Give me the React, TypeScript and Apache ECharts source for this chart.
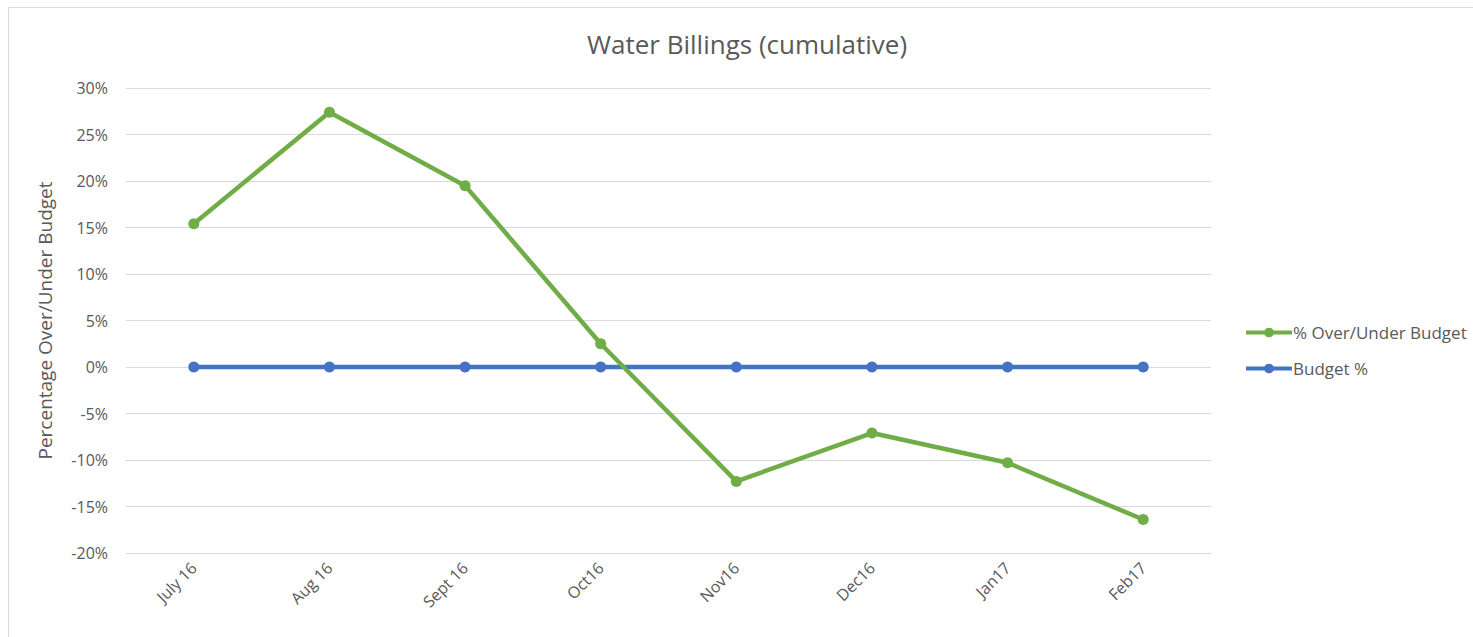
import React, { useEffect, useRef } from "react";
import * as echarts from "echarts";

const categories = ["July 16", "Aug 16", "Sept 16", "Oct16", "Nov16", "Dec16", "Jan17", "Feb17"];
const overUnder = [15.4, 27.4, 19.5, 2.5, -12.3, -7.1, -10.3, -16.4];
const budget = [0, 0, 0, 0, 0, 0, 0, 0];
const yTicks = { min: -20, max: 30, interval: 5 };

const FONT = "'Open Sans', sans-serif";
const TXT = "#595959";

export default function App() {
  const ref = useRef<HTMLDivElement>(null);
  useEffect(() => {
    if (!ref.current) return;
    const chart = echarts.init(ref.current, null, { renderer: "svg" });
    chart.setOption({
      animation: false,
      textStyle: { fontFamily: FONT },
      title: {
        text: "Water Billings (cumulative)",
        left: 742,
        top: 26,
        textAlign: "center",
        textStyle: { fontFamily: FONT, fontSize: 26, fontWeight: "normal", color: TXT },
      },
      legend: {
        orient: "vertical",
        left: 1244,
        top: 324,
        padding: 0,
        itemWidth: 46,
        itemHeight: 12,
        itemGap: 19,
        lineStyle: { width: 4 },
        textStyle: { fontFamily: FONT, fontSize: 17, color: TXT, padding: [0, 0, 0, -4] },
        data: ["% Over/Under Budget", "Budget %"],
      },
      grid: { left: 126, right: 262, top: 88, bottom: 84, containLabel: false },
      xAxis: {
        type: "category",
        data: categories,
        boundaryGap: true,
        axisLine: { show: false, onZero: false },
        axisTick: { show: false },
        axisLabel: { rotate: 45, margin: 12, fontFamily: FONT, fontSize: 16, color: TXT },
        splitLine: { show: false },
      },
      yAxis: {
        type: "value",
        min: yTicks.min,
        max: yTicks.max,
        interval: yTicks.interval,
        name: "Percentage Over/Under Budget",
        nameLocation: "middle",
        nameGap: 72,
        nameRotate: 90,
        nameTextStyle: { fontFamily: FONT, fontSize: 19, color: TXT },
        axisLine: { show: false },
        axisTick: { show: false },
        axisLabel: { formatter: "{value}%", margin: 18, fontFamily: FONT, fontSize: 16, color: TXT },
        splitLine: { lineStyle: { color: "#d9d9d9", width: 1 } },
      },
      series: [
        {
          name: "% Over/Under Budget",
          type: "line",
          data: overUnder,
          symbol: "circle",
          symbolSize: 11,
          lineStyle: { color: "#70AD47", width: 4.5 },
          itemStyle: { color: "#70AD47" },
          z: 3,
        },
        {
          name: "Budget %",
          type: "line",
          data: budget,
          symbol: "circle",
          symbolSize: 11,
          lineStyle: { color: "#4472C4", width: 4.5 },
          itemStyle: { color: "#4472C4" },
          z: 2,
        },
      ],
    });
    return () => chart.dispose();
  }, []);
  return (
    <div style={{ position: "fixed", left: 0, top: 0, width: 1473, height: 637, overflow: "hidden", background: "#fff" }}>
      <div
        style={{
          position: "absolute",
          left: 8,
          top: 7,
          width: 1500,
          height: 700,
          border: "1px solid #d9d9d9",
        }}
      />
      <div ref={ref} style={{ position: "absolute", left: 0, top: 0, width: 1473, height: 637 }} />
    </div>
  );
}
